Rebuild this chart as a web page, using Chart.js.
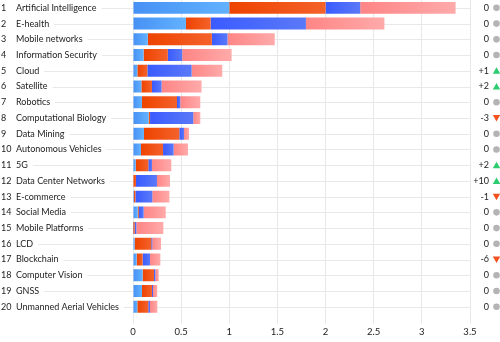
<!DOCTYPE html>
<html>
<head>
<meta charset="utf-8">
<script src="https://cdn.jsdelivr.net/npm/chart.js@4.4.1/dist/chart.umd.min.js"></script>
<style>
  html, body { margin: 0; padding: 0; background: #fff; }
  #wrap { width: 500px; height: 342px; }
</style>
</head>
<body>
<div id="wrap"><canvas id="myChart"></canvas></div>
<script>
const categories = ['Artificial Intelligence', 'E-health', 'Mobile networks', 'Information Security', 'Cloud',
  'Satellite', 'Robotics', 'Computational Biology', 'Data Mining', 'Autonomous Vehicles',
  '5G', 'Data Center Networks', 'E-commerce', 'Social Media', 'Mobile Platforms',
  'LCD', 'Blockchain', 'Computer Vision', 'GNSS', 'Unmanned Aerial Vehicles'];
const rankChange = [0, 0, 0, 0, 1, 2, 0, -3, 0, 0, 2, 10, -1, 0, 0, 0, -6, 0, 0, 0];

// four stacked parts per bar, left to right
const series1 = [1.00, 0.55, 0.154, 0.11, 0.045, 0.087, 0.093, 0.163, 0.114, 0.083,
  0.028, 0.005, 0.01, 0.049, 0.003, 0.017, 0.038, 0.10, 0.093, 0.045];
const series2 = [1.00, 0.256, 0.665, 0.252, 0.104, 0.11, 0.364, 0.014, 0.367, 0.229,
  0.131, 0.026, 0.015, 0.01, 0.015, 0.173, 0.062, 0.118, 0.104, 0.114];
const series3 = [0.36, 0.99, 0.163, 0.149, 0.46, 0.10, 0.034, 0.449, 0.049, 0.11,
  0.038, 0.218, 0.176, 0.052, 0.017, 0.01, 0.077, 0.014, 0.01, 0.018];
const series4 = [0.99, 0.815, 0.49, 0.513, 0.318, 0.415, 0.208, 0.073, 0.052, 0.149,
  0.201, 0.135, 0.177, 0.229, 0.28, 0.091, 0.107, 0.035, 0.045, 0.076];
const xTicks = [0, 0.5, 1, 1.5, 2, 2.5, 3, 3.5];

const FONT = 'Lato, Liberation Sans, sans-serif';
const allSeries = [series1, series2, series3, series4];
const colors = [
  ['#4690f4', '#62b2ff'],
  ['#ee4300', '#f4622a'],
  ['#3a5bff', '#5a79f7'],
  ['#ff8585', '#ffaaaa']
];

// gradient along each segment (darker at the start, lighter at the end)
function segGradient(di) {
  return (c) => {
    const chart = c.chart;
    const area = chart.chartArea;
    if (!area || c.type !== 'data') return colors[di][0];
    let start = 0;
    for (let d = 0; d < di; d++) start += allSeries[d][c.dataIndex];
    const end = start + allSeries[di][c.dataIndex];
    const x = chart.scales.x;
    const x0 = x.getPixelForValue(start), x1 = x.getPixelForValue(end);
    if (x1 - x0 < 1) return colors[di][0];
    const g = chart.ctx.createLinearGradient(x0, 0, x1, 0);
    g.addColorStop(0, colors[di][0]);
    g.addColorStop(1, colors[di][1]);
    return g;
  };
}

const datasets = allSeries.map((s, i) => ({
  label: 'part ' + (i + 1),
  data: s,
  backgroundColor: segGradient(i),
  borderWidth: 0,
  barPercentage: 0.76,
  categoryPercentage: 1
}));

// row lines, labels and the rank change column
const rowsPlugin = {
  id: 'rows',
  beforeDatasetsDraw(chart) {
    const ctx = chart.ctx;
    const y = chart.scales.y;
    ctx.save();
    ctx.strokeStyle = '#e8e8e8';
    ctx.lineWidth = 1;
    categories.forEach((c, i) => {
      const py = Math.round(y.getPixelForValue(i)) + 0.5;
      ctx.beginPath();
      ctx.moveTo(0, py);
      ctx.lineTo(chart.chartArea.right, py);
      ctx.stroke();
    });
    ctx.restore();
  },
  afterDraw(chart) {
    const ctx = chart.ctx;
    const y = chart.scales.y;
    ctx.save();
    ctx.font = '9px ' + FONT;
    ctx.textBaseline = 'middle';
    categories.forEach((c, i) => {
      const py = y.getPixelForValue(i);
      // white backdrop behind the name so the row line starts after it
      ctx.fillStyle = '#fff';
      const w = ctx.measureText(c).width;
      ctx.fillRect(0, py - 6, 16 + w + 5, 12);
      ctx.fillStyle = '#222';
      ctx.textAlign = 'left';
      ctx.fillText(String(i + 1), 1, py);
      ctx.fillText(c, 16, py);

      const ch = rankChange[i];
      ctx.textAlign = 'right';
      ctx.fillStyle = '#222';
      ctx.fillText(ch > 0 ? '+' + ch : String(ch), 489, py);
      const mx = 496.5;
      ctx.beginPath();
      if (ch === 0) {
        ctx.fillStyle = '#b4b4b4';
        ctx.arc(mx, py, 3.3, 0, Math.PI * 2);
      } else if (ch > 0) {
        ctx.fillStyle = '#2ecc71';
        ctx.moveTo(mx - 3.7, py + 3);
        ctx.lineTo(mx + 3.7, py + 3);
        ctx.lineTo(mx, py - 3.5);
        ctx.closePath();
      } else {
        ctx.fillStyle = '#f4511e';
        ctx.moveTo(mx - 3.7, py - 3);
        ctx.lineTo(mx + 3.7, py - 3);
        ctx.lineTo(mx, py + 3.5);
        ctx.closePath();
      }
      ctx.fill();
    });
    ctx.restore();
  }
};

const ctx = document.getElementById('myChart').getContext('2d');
const myChart = new Chart(ctx, {
  type: 'bar',
  data: { labels: categories, datasets },
  options: {
    indexAxis: 'y',
    responsive: true,
    maintainAspectRatio: false,
    animation: false,
    layout: { padding: { left: 133, right: 30, top: 0, bottom: 1 } },
    plugins: { legend: { display: false }, tooltip: { enabled: false } },
    scales: {
      x: {
        stacked: true,
        min: 0,
        max: 3.5,
        afterBuildTicks: (s) => { s.ticks = xTicks.map(v => ({ value: v })); },
        grid: { color: '#e8e8e8', tickLength: 9, drawTicks: true },
        border: { display: false },
        ticks: {
          color: '#222',
          font: { family: FONT, size: 9.5 },
          padding: 3,
          callback: (v) => String(v)
        }
      },
      y: { stacked: true, display: false }
    }
  },
  plugins: [rowsPlugin]
});
</script>
</body>
</html>
